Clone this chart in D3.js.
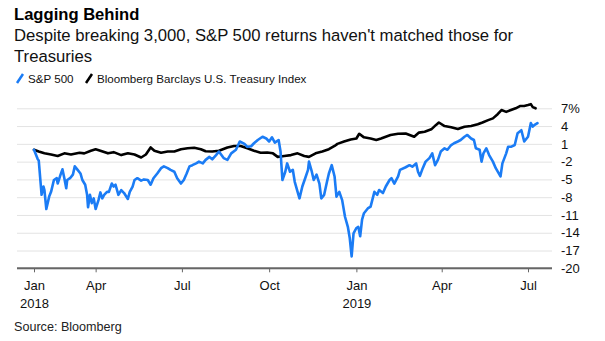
<!DOCTYPE html>
<html><head><meta charset="utf-8">
<script src="https://cdn.jsdelivr.net/npm/d3@7/dist/d3.min.js"></script>
<style>
body{margin:0;background:#fff;}
text{font-family:"Liberation Sans",Arial,Helvetica,sans-serif;}
</style></head>
<body><svg id="c" width="605" height="341"></svg>
<script>
const title = "Lagging Behind";
const subtitleLines = ["Despite breaking 3,000, S&P 500 returns haven't matched those for", "Treasuries"];
const seriesNames = ["S&P 500", "Bloomberg Barclays U.S. Treasury Index"];
const source = "Source: Bloomberg";
const yTicks = [-20, -17, -14, -11, -8, -5, -2, 1, 4, 7];
const xTickDates = ["2018-01-26","2018-04-01","2018-07-01","2018-10-01","2019-01-01","2019-04-01","2019-07-01"];
const xTickMonths = ["Jan","Apr","Jul","Oct","Jan","Apr","Jul"];
const xTickYears = ["2018","","","","2019","",""];

// S&P 500 return since Jan 26 2018, %
const spx = [
["2018-01-26",0],["2018-01-30",-1.6],["2018-01-31",-1.8],["2018-02-03",-7.6],["2018-02-05",-6.2],["2018-02-06",-6.8],
["2018-02-08",-10.0],["2018-02-11",-7.9],["2018-02-13",-7.1],["2018-02-16",-5.1],["2018-02-19",-4.8],["2018-02-20",-5.7],
["2018-02-23",-4.2],["2018-02-25",-3.3],["2018-02-27",-4.8],["2018-03-01",-6.5],["2018-03-02",-5.1],["2018-03-05",-4.8],
["2018-03-08",-4.2],["2018-03-10",-2.8],["2018-03-13",-3.4],["2018-03-16",-4.0],["2018-03-18",-5.1],["2018-03-21",-5.9],
["2018-03-23",-7.6],["2018-03-24",-9.7],["2018-03-26",-7.6],["2018-03-28",-9.0],["2018-03-30",-8.2],["2018-04-01",-10.0],
["2018-04-04",-8.5],["2018-04-06",-7.2],["2018-04-08",-8.2],["2018-04-10",-7.6],["2018-04-13",-7.1],["2018-04-15",-7.1],
["2018-04-18",-5.7],["2018-04-20",-6.2],["2018-04-22",-5.9],["2018-04-25",-7.6],["2018-04-28",-6.8],["2018-05-01",-7.3],
["2018-05-05",-8.3],["2018-05-07",-7.1],["2018-05-10",-6.2],["2018-05-12",-5.1],["2018-05-15",-4.8],["2018-05-19",-5.2],
["2018-05-22",-5.0],["2018-05-26",-5.1],["2018-05-29",-5.9],["2018-06-01",-4.8],["2018-06-05",-4.0],["2018-06-09",-3.1],
["2018-06-12",-2.8],["2018-06-16",-3.1],["2018-06-19",-3.4],["2018-06-23",-3.7],["2018-06-26",-4.8],["2018-06-30",-5.7],
["2018-07-03",-5.1],["2018-07-06",-4.0],["2018-07-09",-2.8],["2018-07-12",-2.6],["2018-07-16",-2.3],["2018-07-19",-2.0],
["2018-07-23",-2.3],["2018-07-26",-1.7],["2018-07-30",-1.2],["2018-08-02",-1.6],["2018-08-06",-0.9],["2018-08-09",-0.3],
["2018-08-14",-1.4],["2018-08-18",-1.7],["2018-08-22",-0.6],["2018-08-27",0.0],["2018-08-31",1.4],["2018-09-05",1.0],
["2018-09-08",0.5],["2018-09-12",0.6],["2018-09-15",1.1],["2018-09-19",1.65],["2018-09-24",2.2],["2018-09-28",1.9],
["2018-10-01",1.4],["2018-10-04",2.1],["2018-10-07",1.2],["2018-10-11",1.65],["2018-10-13",-0.3],["2018-10-15",-5.1],
["2018-10-18",-3.7],["2018-10-20",-2.3],["2018-10-23",-3.7],["2018-10-26",-3.4],["2018-10-28",-5.4],["2018-10-31",-7.1],
["2018-11-02",-8.2],["2018-11-05",-6.2],["2018-11-08",-4.8],["2018-11-11",-3.4],["2018-11-12",-2.0],["2018-11-15",-3.7],
["2018-11-17",-5.1],["2018-11-20",-4.2],["2018-11-23",-5.7],["2018-11-25",-8.2],["2018-11-28",-7.6],["2018-12-01",-5.4],
["2018-12-03",-4.0],["2018-12-06",-2.6],["2018-12-09",-4.5],["2018-12-11",-7.9],["2018-12-14",-7.1],["2018-12-17",-8.5],
["2018-12-20",-11.3],["2018-12-23",-13.0],["2018-12-25",-14.9],["2018-12-27",-18.0],["2018-12-29",-14.1],["2019-01-01",-13.2],
["2019-01-03",-13.0],["2019-01-05",-14.6],["2019-01-07",-11.8],["2019-01-09",-10.7],["2019-01-13",-9.9],["2019-01-16",-9.6],
["2019-01-20",-7.1],["2019-01-23",-7.6],["2019-01-25",-6.8],["2019-01-29",-7.3],["2019-02-01",-6.2],["2019-02-05",-5.1],
["2019-02-07",-4.8],["2019-02-10",-5.7],["2019-02-14",-4.5],["2019-02-16",-3.4],["2019-02-22",-2.95],["2019-02-26",-2.6],
["2019-03-01",-2.85],["2019-03-05",-2.3],["2019-03-07",-3.7],["2019-03-09",-4.4],["2019-03-12",-3.1],["2019-03-15",-2.0],
["2019-03-19",-1.4],["2019-03-22",-0.6],["2019-03-25",-2.6],["2019-03-28",-1.7],["2019-03-31",-0.3],["2019-04-04",0.25],
["2019-04-07",0.0],["2019-04-11",0.8],["2019-04-14",1.1],["2019-04-18",1.4],["2019-04-21",1.65],["2019-04-25",2.2],
["2019-04-28",2.5],["2019-05-02",1.9],["2019-05-05",1.65],["2019-05-07",0.25],["2019-05-11",0.0],["2019-05-13",-2.0],
["2019-05-15",-0.6],["2019-05-18",0.25],["2019-05-21",-0.9],["2019-05-25",-2.0],["2019-05-28",-3.1],["2019-06-02",-4.5],
["2019-06-04",-2.3],["2019-06-08",-0.6],["2019-06-10",0.5],["2019-06-13",0.5],["2019-06-17",0.8],["2019-06-20",2.8],
["2019-06-24",3.3],["2019-06-27",1.4],["2019-07-01",2.2],["2019-07-04",4.5],["2019-07-06",3.9],["2019-07-08",4.2],
["2019-07-11",4.5]
];

// Bloomberg Barclays U.S. Treasury Index return since Jan 26 2018, %
const tsy = [
["2018-01-26",0],["2018-01-31",-0.3],["2018-02-06",-0.6],["2018-02-13",-0.8],["2018-02-20",-1.05],["2018-02-27",-0.6],
["2018-03-06",-0.8],["2018-03-15",-0.5],["2018-03-20",-0.6],["2018-03-27",-0.15],["2018-04-01",0.1],["2018-04-06",-0.15],
["2018-04-14",-0.6],["2018-04-20",-0.4],["2018-04-28",-0.9],["2018-05-05",-0.6],["2018-05-12",-0.8],["2018-05-19",-1.3],
["2018-05-24",-0.8],["2018-05-29",0.4],["2018-06-02",-0.15],["2018-06-09",-0.5],["2018-06-16",-0.3],["2018-06-23",-0.3],
["2018-06-30",0.1],["2018-07-07",0.25],["2018-07-14",0.35],["2018-07-21",0.1],["2018-07-26",-0.25],["2018-08-02",-0.3],
["2018-08-09",-0.15],["2018-08-18",0.4],["2018-08-25",0.65],["2018-09-01",0.65],["2018-09-08",0.25],["2018-09-15",-0.15],
["2018-09-22",-0.5],["2018-09-29",-0.45],["2018-10-05",-0.6],["2018-10-10",-1.2],["2018-10-17",-1.05],["2018-10-24",-0.9],
["2018-10-31",-0.6],["2018-11-07",-1.05],["2018-11-12",-1.2],["2018-11-19",-0.6],["2018-11-26",-0.3],["2018-12-03",0.1],
["2018-12-09",0.65],["2018-12-12",1.0],["2018-12-19",1.4],["2018-12-26",1.75],["2019-01-01",1.9],["2019-01-04",2.7],
["2019-01-09",2.1],["2019-01-16",1.9],["2019-01-22",1.65],["2019-01-27",1.9],["2019-02-01",2.2],["2019-02-06",2.5],
["2019-02-14",2.7],["2019-02-22",2.75],["2019-03-03",2.2],["2019-03-08",2.9],["2019-03-14",3.05],["2019-03-21",3.45],
["2019-03-26",4.2],["2019-03-29",4.6],["2019-04-04",4.0],["2019-04-11",3.8],["2019-04-18",3.5],["2019-04-25",3.9],
["2019-05-02",4.0],["2019-05-09",4.3],["2019-05-14",4.6],["2019-05-20",5.0],["2019-05-25",5.3],["2019-05-30",6.0],
["2019-06-03",6.7],["2019-06-08",6.4],["2019-06-13",6.7],["2019-06-18",7.0],["2019-06-23",7.4],["2019-06-27",7.4],
["2019-07-01",7.55],["2019-07-04",7.7],["2019-07-06",7.2],["2019-07-09",7.0]
];

const colors = ["#1b7cf5", "#000000"];
const parse = d3.utcParse("%Y-%m-%d");
const svg = d3.select("#c");

const plotL = 17, plotR = 552;
const x = d3.scaleUtc().domain([parse("2018-01-26"), parse("2019-07-01")]).range([34, 528]);
const y = d3.scaleLinear().domain([-20, 7]).range([268.3, 108.3]);

// title block
svg.append("text").attr("x", 14).attr("y", 20).attr("font-size", 16.6).attr("font-weight", "bold").attr("fill", "#000").text(title);
subtitleLines.forEach((t, i) => {
  svg.append("text").attr("x", 14).attr("y", 41 + i * 20.5).attr("font-size", 16.7).attr("fill", "#111").text(t);
});

// legend
const legX = [16, 85];
seriesNames.forEach((n, i) => {
  const lx = legX[i];
  svg.append("line").attr("x1", lx + 1).attr("y1", 83).attr("x2", lx + 7).attr("y2", 74)
    .attr("stroke", colors[i]).attr("stroke-width", 2.5);
  svg.append("text").attr("x", lx + 12).attr("y", 83).attr("font-size", 11.6).attr("fill", "#111").text(n);
});

// y gridlines + labels
const gy = svg.append("g").attr("transform", `translate(${plotR},0)`)
  .call(d3.axisRight(y).tickValues(yTicks).tickSize(-(plotR - plotL)).tickPadding(9)
    .tickFormat(d => d === 7 ? "7%" : String(d)));
gy.select(".domain").remove();
gy.selectAll(".tick line").attr("stroke", "#e3e3e3").attr("stroke-width", 1);
gy.selectAll(".tick text").attr("font-size", 13).attr("fill", "#111").attr("font-family", "Liberation Sans, Arial, sans-serif");

// x axis
const gx = svg.append("g").attr("transform", `translate(0,${y(-20)})`)
  .call(d3.axisBottom(x).tickValues(xTickDates.map(parse)).tickSize(4).tickPadding(8)
    .tickFormat((d, i) => xTickMonths[i]));
gx.select(".domain").remove();
gx.selectAll(".tick line").attr("stroke", "#666").attr("stroke-width", 1);
gx.selectAll(".tick text").attr("font-size", 13).attr("fill", "#111").attr("font-family", "Liberation Sans, Arial, sans-serif")
  .each(function(d, i) {
    if (xTickYears[i]) {
      d3.select(this).append("tspan").attr("x", 0).attr("dy", "1.4em").text(xTickYears[i]);
    }
  });
svg.append("line").attr("x1", plotL).attr("x2", plotR).attr("y1", y(-20)).attr("y2", y(-20))
  .attr("stroke", "#666").attr("stroke-width", 2);

// lines
const line = d3.line().x(d => x(parse(d[0]))).y(d => y(d[1])).curve(d3.curveLinear);
[tsy, spx].forEach((s, k) => {
  const ci = k === 0 ? 1 : 0;
  svg.append("path").datum(s).attr("d", line).attr("fill", "none")
    .attr("stroke", colors[ci]).attr("stroke-width", 2.6).attr("stroke-linejoin", "round").attr("stroke-linecap", "round");
});

// source
svg.append("text").attr("x", 14).attr("y", 331).attr("font-size", 12.6).attr("fill", "#222").text(source);
</script></body></html>
